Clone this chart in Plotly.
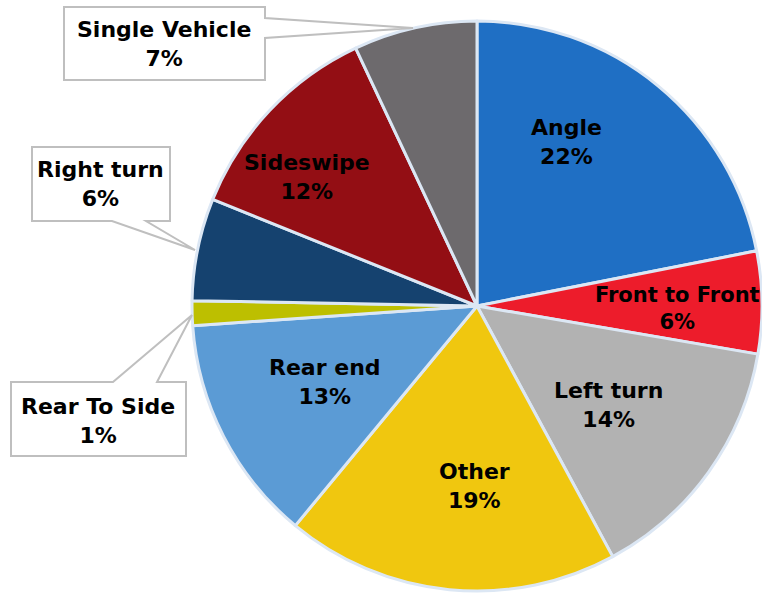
import plotly.graph_objects as go

# crash types, clockwise from 12 o'clock
labels = ["Angle", "Front to Front", "Left turn", "Other", "Rear end",
          "Rear To Side", "Right turn", "Sideswipe", "Single Vehicle"]
values = [21.9, 5.8, 14.4, 18.9, 12.9, 1.4, 5.8, 11.9, 7.0]
colors = ["#1F6FC4", "#ED1C2B", "#B2B2B2", "#F0C70F", "#5B9BD5",
          "#BDBF00", "#15426F", "#930E14", "#6D6A6D"]

W, H = 762, 593


def px(x, y):
    return x / W, 1 - y / H


total = sum(values)
pct = [f"{round(v / total * 100)}%" for v in values]

fig = go.Figure(go.Pie(
    labels=labels,
    values=values,
    sort=False,
    direction="clockwise",
    rotation=0,
    marker=dict(colors=colors, line=dict(color="#DCE7F4", width=3)),
    textinfo="none",
    hoverinfo="label+percent",
    domain=dict(x=[192 / W, 1.0], y=[1 - 592 / H, 1 - 20 / H]),
    showlegend=False,
))

# label placement (pixel centre of each text block, font size)
label_pos = {
    "Angle": (566, 142, 22),
    "Front to Front": (677, 308, 21),
    "Left turn": (608, 405, 22),
    "Other": (474, 486, 22),
    "Rear end": (325, 382, 22),
    "Rear To Side": (98, 421, 22),
    "Right turn": (100, 184, 22),
    "Sideswipe": (307, 177, 22),
    "Single Vehicle": (164, 44, 22),
}

# callout boxes: polygon outline in pixels (box with a pointer)
callouts = [
    [(64, 7), (265, 7), (265, 18), (413, 28), (265, 38), (265, 80), (64, 80)],
    [(32, 147), (170, 147), (170, 221), (146, 221), (195, 250), (112, 221), (32, 221)],
    [(11, 382), (113, 382), (192, 315), (157, 382), (186, 382), (186, 456), (11, 456)],
]

shapes = []
for poly in callouts:
    pts = [px(x, y) for x, y in poly]
    path = "M " + " L ".join(f"{a:.5f},{b:.5f}" for a, b in pts) + " Z"
    shapes.append(dict(type="path", path=path, xref="paper", yref="paper",
                       fillcolor="white", line=dict(color="#BFBFBF", width=2),
                       layer="above"))

annotations = []
for lab, p in zip(labels, pct):
    lx, ly, fs = label_pos[lab]
    x, y = px(lx, ly)
    annotations.append(dict(
        x=x, y=y, xref="paper", yref="paper",
        text=f"<b>{lab}<br>{p}</b>", showarrow=False,
        font=dict(family="DejaVu Sans, sans-serif", size=fs, color="black"),
        align="center", xanchor="center", yanchor="middle",
    ))

fig.update_layout(
    width=W, height=H,
    margin=dict(l=0, r=0, t=0, b=0),
    paper_bgcolor="white",
    shapes=shapes,
    annotations=annotations,
)

# drop the default page margin so the figure sits at the window origin
fig.write_html("out.html", config={"displayModeBar": False},
               post_script="document.body.style.margin='0';")
